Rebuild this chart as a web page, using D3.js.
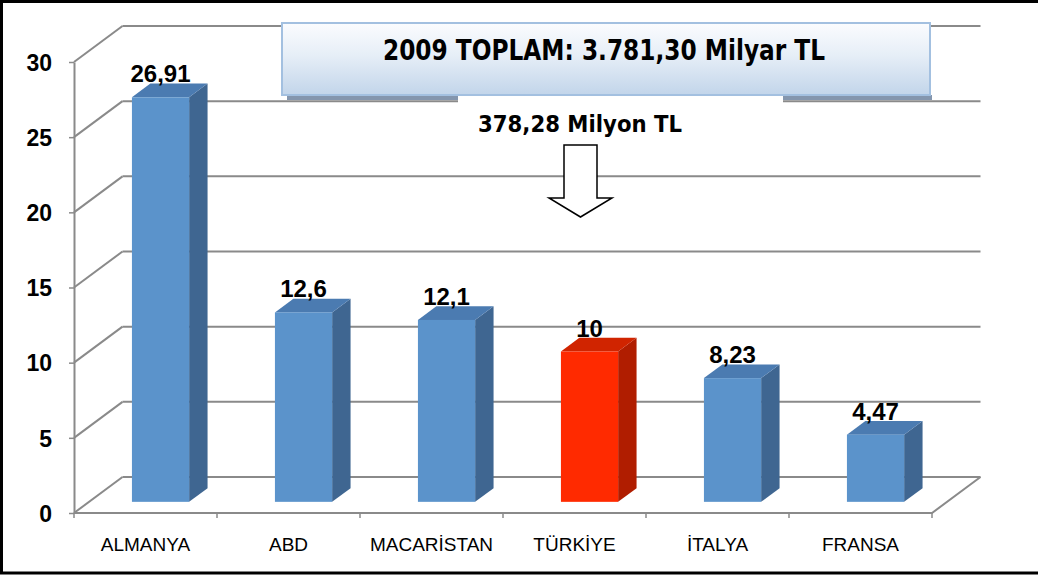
<!DOCTYPE html>
<html>
<head>
<meta charset="utf-8">
<script src="https://cdn.jsdelivr.net/npm/d3@7"></script>
<style>
  body { margin: 0; background: #fff; }
  #chart { width: 1038px; height: 575px; }
  text { font-family: "Liberation Sans", Arial, sans-serif; }
</style>
</head>
<body>
<div id="chart"></div>
<script>
// 2009 - country values (Milyar TL)
const categories = ["ALMANYA", "ABD", "MACARİSTAN", "TÜRKİYE", "İTALYA", "FRANSA"];
const values = [26.91, 12.6, 12.1, 10, 8.23, 4.47];
const valueLabels = ["26,91", "12,6", "12,1", "10", "8,23", "4,47"];
const yTicks = [0, 5, 10, 15, 20, 25, 30];
const highlight = "TÜRKİYE";
const titleText = "2009 TOPLAM: 3.781,30 Milyar TL";
const noteText = "378,28 Milyon TL";

function renderChart(containerId) {
  const width = 1038, height = 575;
  const svg = d3.select(`#${containerId}`).append("svg")
    .attr("width", width)
    .attr("height", height);

  // front plane of the 3d box
  const x = d3.scaleBand().domain(categories).range([74, 932]);
  const y = d3.scaleLinear().domain([0, 30]).range([513, 62]);

  // depth offset (z from 0 = front to 1 = back wall)
  const DX = 48.5, DY = -36;
  const px = (xf, z) => xf + z * DX;
  const py = (v, z) => y(v) + z * DY;
  const pt = (xf, v, z) => [px(xf, z), py(v, z)];

  const x0 = x.range()[0], x1 = x.range()[1];
  const gridColor = "#8a8a8a";

  const grid = svg.append("g").attr("stroke", gridColor).attr("stroke-width", 2).attr("fill", "none");

  // back wall lines
  grid.selectAll("line.back")
    .data(yTicks)
    .join("line")
    .attr("class", "back")
    .attr("x1", px(x0, 1)).attr("x2", px(x1, 1))
    .attr("y1", d => py(d, 1)).attr("y2", d => py(d, 1));

  // side wall diagonals
  grid.selectAll("line.side")
    .data(yTicks)
    .join("line")
    .attr("class", "side")
    .attr("x1", px(x0, 0)).attr("x2", px(x0, 1))
    .attr("y1", d => py(d, 0)).attr("y2", d => py(d, 1));

  // floor front + right edge
  grid.append("path")
    .attr("d", d3.line()([pt(x0, 0, 0), pt(x1, 0, 0), pt(x1, 0, 1)]));

  // x boundary ticks
  const bounds = categories.map(c => x(c)).concat([x1]);
  grid.selectAll("line.xtick")
    .data(bounds)
    .join("line")
    .attr("class", "xtick")
    .attr("stroke-width", 1.5)
    .attr("x1", d => d).attr("x2", d => d)
    .attr("y1", y(0)).attr("y2", y(0) + 5);

  // y axis
  const yAxis = svg.append("g")
    .attr("transform", `translate(${x0},0)`)
    .call(d3.axisLeft(y).tickValues(yTicks).tickSize(5).tickPadding(17).tickSizeOuter(0));
  yAxis.select(".domain").attr("stroke", gridColor).attr("stroke-width", 2);
  yAxis.selectAll(".tick line").attr("stroke", gridColor).attr("stroke-width", 1.5);
  yAxis.selectAll(".tick text")
    .attr("fill", "#000")
    .style("font-size", "23px")
    .style("font-weight", "bold")
    .attr("dy", "0.36em");

  // x axis labels
  const xAxis = svg.append("g")
    .attr("transform", `translate(0,${y(0)})`)
    .call(d3.axisBottom(x).tickSize(0).tickPadding(25));
  xAxis.select(".domain").remove();
  xAxis.selectAll(".tick text")
    .attr("fill", "#000")
    .style("font-size", "19px");

  // bars
  const bw = x.bandwidth();
  const barW = bw * 0.4;
  const z0 = 0.31, z1 = 0.69;
  const colors = {
    normal: { front: "#5b93cb", side: "#3f6691", top: "#4b7bb1" },
    hi: { front: "#ff2a00", side: "#b01d00", top: "#d02400" }
  };

  const bars = svg.append("g").selectAll("g")
    .data(categories.map((c, i) => ({ c, v: values[i], label: valueLabels[i] })))
    .join("g");

  bars.each(function(d) {
    const g = d3.select(this);
    const col = d.c === highlight ? colors.hi : colors.normal;
    const xl = x(d.c) + (bw - barW) / 2;
    const xr = xl + barW;
    g.append("path")
      .attr("fill", col.side)
      .attr("d", d3.line()([pt(xr, d.v, z0), pt(xr, d.v, z1), pt(xr, 0, z1), pt(xr, 0, z0)]) + "Z");
    g.append("path")
      .attr("fill", col.top)
      .attr("d", d3.line()([pt(xl, d.v, z0), pt(xr, d.v, z0), pt(xr, d.v, z1), pt(xl, d.v, z1)]) + "Z");
    g.append("rect")
      .attr("fill", col.front)
      .attr("x", px(xl, z0))
      .attr("y", py(d.v, z0))
      .attr("width", barW)
      .attr("height", py(0, z0) - py(d.v, z0));
    g.append("text")
      .attr("x", px(xl, z0) + barW / 2)
      .attr("y", py(d.v, z0) - 15)
      .attr("text-anchor", "middle")
      .style("font-size", "24px")
      .style("font-weight", "bold")
      .text(d.label);
  });

  // title box
  const defs = svg.append("defs");
  const grad = defs.append("linearGradient").attr("id", "boxGrad")
    .attr("x1", 0).attr("y1", 0).attr("x2", 0).attr("y2", 1);
  grad.append("stop").attr("offset", "0%").attr("stop-color", "#fbfcfe");
  grad.append("stop").attr("offset", "45%").attr("stop-color", "#e6eef7");
  grad.append("stop").attr("offset", "100%").attr("stop-color", "#c2d5ea");

  svg.append("rect")
    .attr("x", 287).attr("y", 95).attr("width", 645).attr("height", 5)
    .attr("fill", "#8496ae");
  svg.append("rect")
    .attr("x", 282).attr("y", 23).attr("width", 648).attr("height", 72)
    .attr("fill", "url(#boxGrad)")
    .attr("stroke", "#a3c0e0")
    .attr("stroke-width", 2);
  svg.append("text")
    .attr("x", 383).attr("y", 60)
    .attr("textLength", 442)
    .attr("lengthAdjust", "spacingAndGlyphs")
    .style("font-family", "'DejaVu Sans', sans-serif")
    .style("font-size", "28px")
    .style("font-weight", "bold")
    .text(titleText);

  // note box (white) + text
  svg.append("rect")
    .attr("x", 458).attr("y", 96).attr("width", 325).attr("height", 44)
    .attr("fill", "#fff");
  svg.append("text")
    .attr("x", 478).attr("y", 132)
    .attr("textLength", 204)
    .attr("lengthAdjust", "spacingAndGlyphs")
    .style("font-family", "'DejaVu Sans', sans-serif")
    .style("font-size", "22.5px")
    .style("font-weight", "bold")
    .text(noteText);

  // down arrow pointing to highlighted bar
  const ax = x(highlight) + bw / 2 + 6;
  const arrow = [
    [ax - 16.5, 145], [ax + 16.5, 145], [ax + 16.5, 198], [ax + 31.5, 198],
    [ax, 217], [ax - 31.5, 198], [ax - 16.5, 198]
  ];
  svg.append("path")
    .attr("d", d3.line()(arrow) + "Z")
    .attr("fill", "#fff")
    .attr("stroke", "#000")
    .attr("stroke-width", 1.5);

  // outer frame (right edge cut off)
  svg.append("rect")
    .attr("x", 1.5).attr("y", 1.5).attr("width", 1045).attr("height", 571.5)
    .attr("fill", "none")
    .attr("stroke", "#000")
    .attr("stroke-width", 3);
}

document.addEventListener("DOMContentLoaded", () => {
  renderChart("chart");
});
</script>
</body>
</html>
